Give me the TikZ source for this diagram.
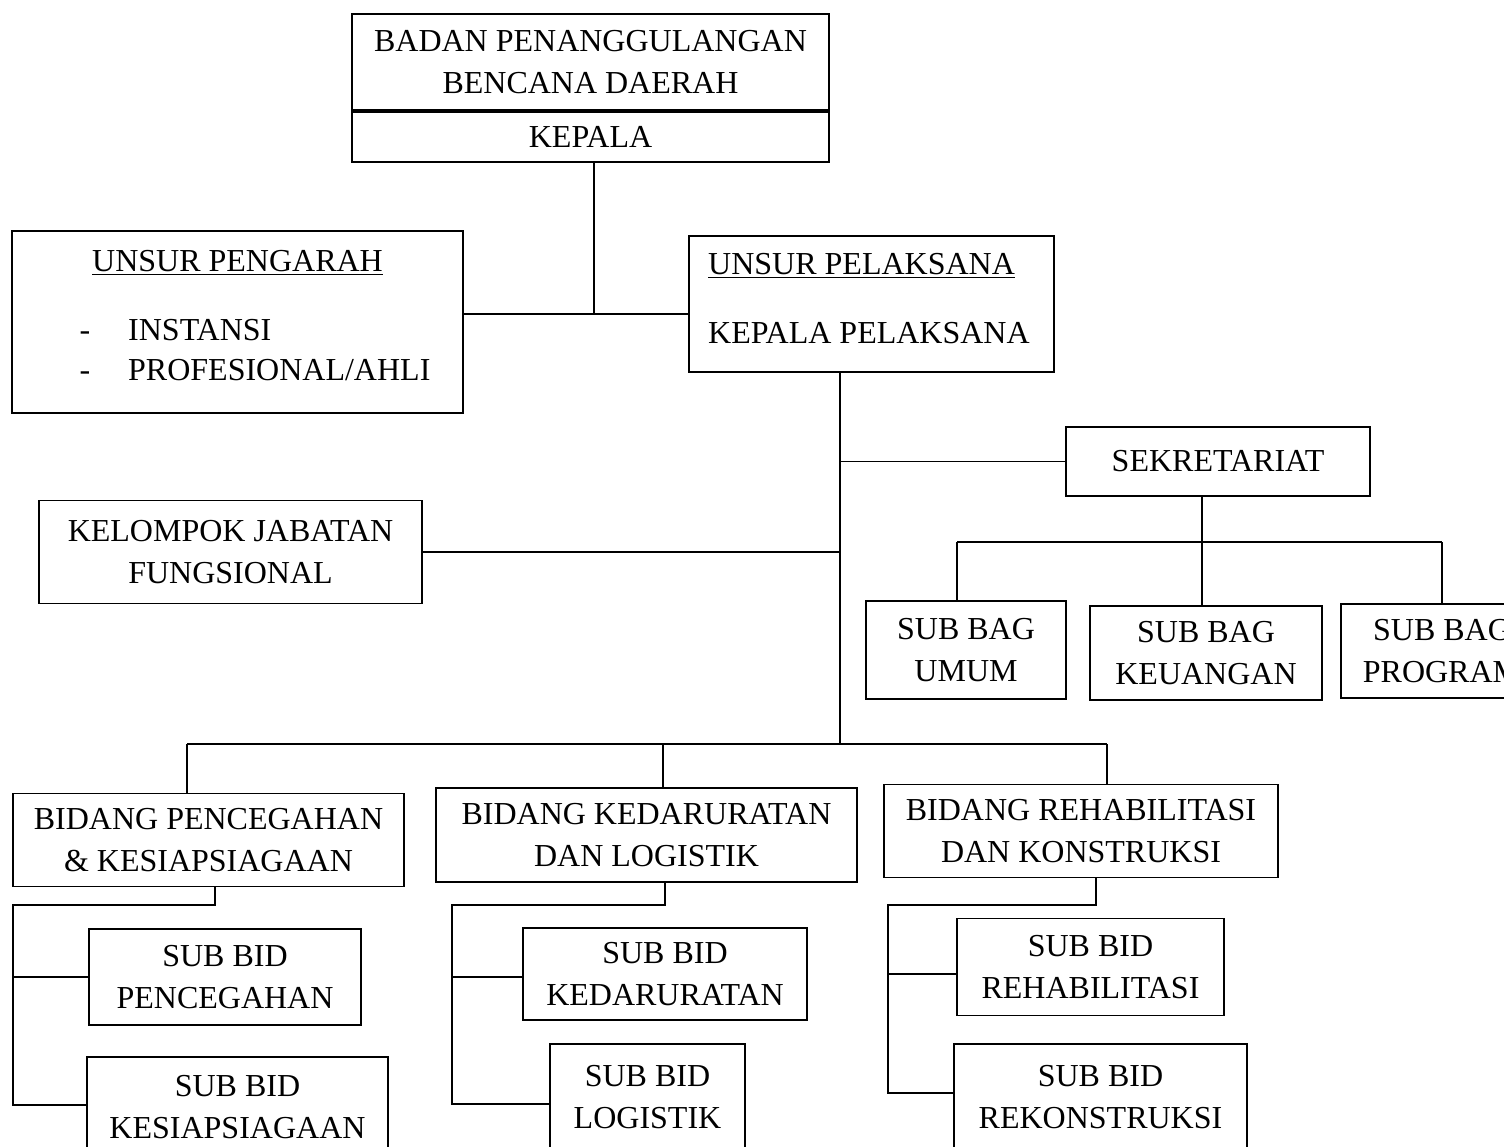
\documentclass[tikz,border=0pt]{standalone}
\usepackage{fontspec}
\setmainfont{Liberation Serif}

\tikzset{
	box/.style={draw,line width=1.6pt,align=center},
	link/.style={line width=1.6pt}
}

\begin{document}
\begin{tikzpicture}[x=1pt,y=-1pt,every node/.style={inner sep=0pt,font=\fontsize{32}{41.5}\selectfont}]
		\useasboundingbox (0,0) rectangle (1504,1147);
		% one-line boxes
		\node[box,minimum width=477,minimum height=96] (badan) at (590.5,62) {BADAN PENANGGULANGAN\\BENCANA DAERAH};
		\node[box,minimum width=477,minimum height=50] (kepala) at (590.5,137) {KEPALA};
		\node[box,minimum width=304,minimum height=69] (sekretariat) at (1218,461.5) {SEKRETARIAT};
		% two-line boxes
		\foreach \nm/\px/\py/\bw/\bh/\la/\lb in
		{
		umum/966/650/200/98/{SUB BAG}/{UMUM},
		keuangan/1206/653/232/94/{SUB BAG}/{KEUANGAN},
		program/1442/651/202/94/{SUB BAG}/{PROGRAM},
		kelompok/230.5/552/383/103/{KELOMPOK JABATAN}/{FUNGSIONAL},
		pencegahan/208.5/840/391/93/{BIDANG PENCEGAHAN}/{\& KESIAPSIAGAAN},
		kedaruratan/646.5/835/421/94/{BIDANG KEDARURATAN}/{DAN LOGISTIK},
		rehabilitasi/1081/831/394/93/{BIDANG REHABILITASI}/{DAN KONSTRUKSI},
		sbpencegahan/225/977/272/96/{SUB BID}/{PENCEGAHAN},
		sbkesiap/237.5/1107/301/100/{SUB BID}/{KESIAPSIAGAAN},
		sbkedaruratan/665/974/284/92/{SUB BID}/{KEDARURATAN},
		sblogistik/647.5/1097/195/106/{SUB BID}/{LOGISTIK},
		sbrehab/1090.5/967/267/97/{SUB BID}/{REHABILITASI},
		sbrekon/1100.5/1097/293/106/{SUB BID}/{REKONSTRUKSI}
		}
		\node[box,minimum width=\bw,minimum height=\bh] (\nm) at (\px,\py) {\la\\\lb};
		% unsur pengarah
		\node[box,minimum width=451,minimum height=182] (pengarah) at (237.5,322) {};
		\node[anchor=base] (pengarahtitle) at (237.5,272) {\underline{UNSUR PENGARAH}};
		\foreach \py/\la [count=\i] in {341/INSTANSI,381/{PROFESIONAL/AHLI}}
		{
		\node[anchor=base] (dash\i) at (85,\py) {-};
		\node[anchor=base west] (item\i) at (128,\py) {\la};
		}
		% unsur pelaksana
		\node[box,minimum width=365,minimum height=136] (pelaksana) at (871.5,304) {};
		\node[anchor=base west] (pelaksanatitle) at (708,275) {\underline{UNSUR PELAKSANA}};
		\node[anchor=base west] (pelaksanahead) at (708,344) {KEPALA PELAKSANA};
		% kepala to both unsur
		\coordinate (j1) at (594,314);
		\draw[link] (j1 |- kepala.south) -- (j1);
		\draw[link] (pengarah.east |- j1) -- (pelaksana.west |- j1);
		% main line
		\coordinate (spine) at (840,744);
		\draw[link] (spine |- pelaksana.south) -- (spine);
		\draw[link] (spine |- sekretariat.west) -- (sekretariat.west);
		\draw[link] (kelompok.east) -- (kelompok.east -| spine);
		\draw[link] (187,744) -- (1107,744);
		\foreach \px/\nm in {187/pencegahan,663/kedaruratan,1107/rehabilitasi}
		\draw[link] (\px,744) -- (\px,744 |- \nm.north);
		% sekretariat
		\draw[link] (1202,0 |- sekretariat.south) -- (1202,0 |- keuangan.north);
		\draw[link] (957,542) -- (1442,542);
		\foreach \px/\nm in {957/umum,1442/program}
		\draw[link] (\px,542) -- (\px,542 |- \nm.north);
		% bidang to sub bid
		\foreach \nb/\na/\nc/\xa/\xb/\ya/\yb in
		{
		pencegahan/sbpencegahan/sbkesiap/215/13/977/1105,
		kedaruratan/sbkedaruratan/sblogistik/665/452/977/1104,
		rehabilitasi/sbrehab/sbrekon/1096/888/974/1093
		}
		{
		\draw[link] (\xa,0 |- \nb.south) -- (\xa,905) -| (\xb,\yb) -- (\xb,\yb -| \nc.west);
		\draw[link] (\xb,\ya) -- (\xb,\ya -| \na.west);
		}
	\end{tikzpicture}
\end{document}
